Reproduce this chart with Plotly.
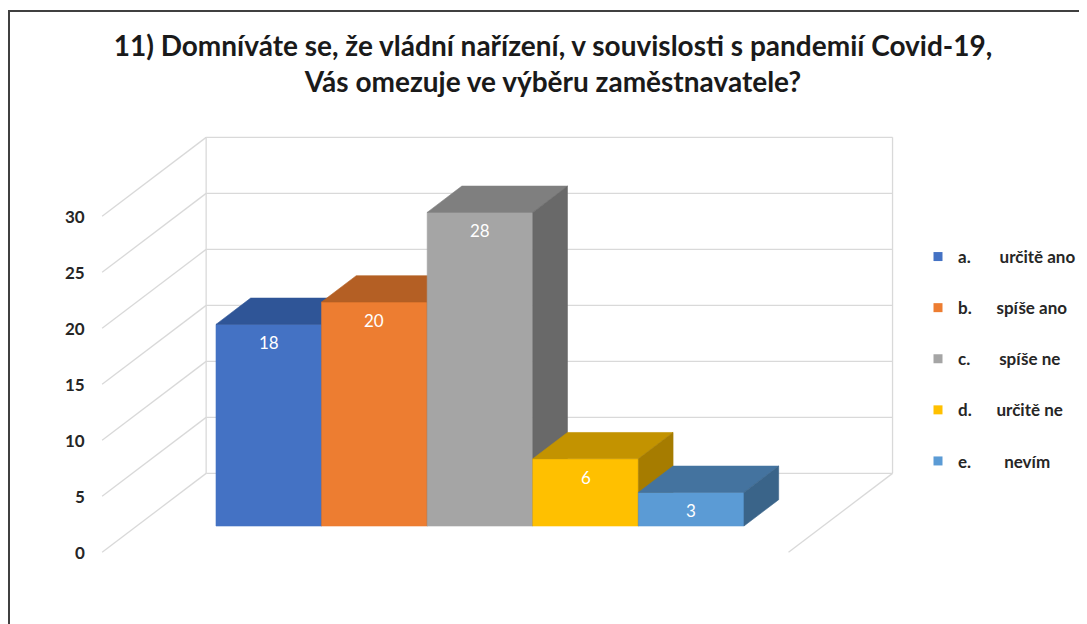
import plotly.graph_objects as go

# ---------------- data ----------------
categories = ["a.", "b.", "c.", "d.", "e."]
answers = ["určitě ano", "spíše ano", "spíše ne", "určitě ne", "nevím"]
values = [18, 20, 28, 6, 3]
front_colors = ["#4472C4", "#ED7D31", "#A5A5A5", "#FFC000", "#5B9BD5"]
top_colors = ["#2F5597", "#B45F24", "#7F7F7F", "#C39300", "#44739F"]
side_colors = ["#2A4C86", "#A0521C", "#696969", "#A67C00", "#3A6489"]
tick_values = [0, 5, 10, 15, 20, 25, 30]
tick_labels = ["0", "5", "10", "15", "20", "25", "30"]
legend_gaps = [7, 6, 7, 6, 8]
title_text = ("11) Domníváte se, že vládní nařízení, v souvislosti s pandemií Covid-19,"
              "<br>Vás omezuje ve výběru zaměstnavatele?")

# ---------------- geometry / style ----------------
W, H = 1087, 624
FONT = "Lato, 'Open Sans', 'Liberation Sans', sans-serif"
TEXT_COLOR = "#262626"
GRID_COLOR = "#D9D9D9"
GAP = 0.75                 # space between bars and walls (x units)
KX, KY = 0.985, 7.05       # oblique depth projection, front edge -> back wall
D_FRONT, D_BACK = 1 / 3, 2 / 3


def P(x, d, v):
    """Project a point (x, depth, value) onto the plot plane."""
    return x + KX * (d - D_FRONT), v + KY * (d - D_FRONT)


n = len(values)
x_left = -0.5 - GAP
x_right = n - 0.5 + GAP
v_top = max(tick_values)

fig = go.Figure()

# ---------------- walls & gridlines ----------------
gx, gy = [], []
for t in tick_values:
    for (x, d) in [(x_left, 1), (x_right, 1)]:
        px, py = P(x, d, t)
        gx.append(px); gy.append(py)
    gx.append(None); gy.append(None)
    for (x, d) in [(x_left, 0), (x_left, 1)]:
        px, py = P(x, d, t)
        gx.append(px); gy.append(py)
    gx.append(None); gy.append(None)
for x in (x_left, x_right):
    for v in (0, v_top):
        px, py = P(x, 1, v)
        gx.append(px); gy.append(py)
    gx.append(None); gy.append(None)
for d in (0, 1):
    px, py = P(x_right, d, 0)
    gx.append(px); gy.append(py)

fig.add_trace(go.Scatter(x=gx, y=gy, mode="lines",
                         line=dict(color=GRID_COLOR, width=1.3),
                         hoverinfo="skip", showlegend=False))


def face(points, color):
    xs, ys = [], []
    for (x, d, v) in points:
        px, py = P(x, d, v)
        xs.append(px); ys.append(py)
    xs.append(xs[0]); ys.append(ys[0])
    fig.add_trace(go.Scatter(x=xs, y=ys, mode="lines", fill="toself",
                             fillcolor=color, line=dict(color=color, width=0.6),
                             hoverinfo="skip", showlegend=False))


# ---------------- 3D bars ----------------
for i, v in enumerate(values):
    xl, xr = i - 0.5, i + 0.5
    face([(xl, D_FRONT, 0), (xr, D_FRONT, 0), (xr, D_FRONT, v), (xl, D_FRONT, v)],
         front_colors[i])
    face([(xl, D_FRONT, v), (xr, D_FRONT, v), (xr, D_BACK, v), (xl, D_BACK, v)],
         top_colors[i])
    face([(xr, D_FRONT, 0), (xr, D_FRONT, v), (xr, D_BACK, v), (xr, D_BACK, 0)],
         side_colors[i])

# ---------------- legend entries ----------------
for i, (c, a) in enumerate(zip(categories, answers)):
    fig.add_trace(go.Scatter(x=[None], y=[None], mode="markers",
                             marker=dict(symbol="square", size=9, color=front_colors[i]),
                             name=c + "\u00a0" * legend_gaps[i] + a,
                             legendgroup=str(i), showlegend=True))

annotations = []
for i, v in enumerate(values):
    annotations.append(dict(x=i, y=v, xref="x", yref="y", text=str(v), showarrow=False,
                            yanchor="top", yshift=-6,
                            font=dict(family=FONT, size=17, color="white")))
for t, lab in zip(tick_values, tick_labels):
    px, py = P(x_left, 0, t)
    annotations.append(dict(x=px, y=py, xref="x", yref="y", text=lab, showarrow=False,
                            xanchor="right", xshift=-15,
                            font=dict(family=FONT, size=17, color=TEXT_COLOR, weight="bold")))

fig.update_layout(
    width=W, height=H,
    margin=dict(l=0, r=0, t=0, b=0),
    paper_bgcolor="white", plot_bgcolor="white",
    title=dict(text=title_text, x=545 / W, xanchor="center",
               y=1 - 48 / H, yanchor="middle",
               font=dict(family=FONT, size=28, color="#1a1a1a", weight="bold")),
    xaxis=dict(range=[-2.4697, 7.824], visible=False, fixedrange=True),
    yaxis=dict(range=[-9.464, 46.25], visible=False, fixedrange=True),
    legend=dict(x=910 / W, xanchor="left", y=1 - 231 / H, yanchor="top",
                tracegroupgap=26, bgcolor="rgba(0,0,0,0)",
                font=dict(family=FONT, size=17, color=TEXT_COLOR, weight="bold")),
    annotations=annotations,
    shapes=[dict(type="rect", xref="paper", yref="paper",
                 x0=1 / W, x1=1.02, y0=-0.02, y1=1 - 3 / H,
                 line=dict(color="#404040", width=2), fillcolor="rgba(0,0,0,0)")],
    showlegend=True,
)

fig.write_html("out.html")
